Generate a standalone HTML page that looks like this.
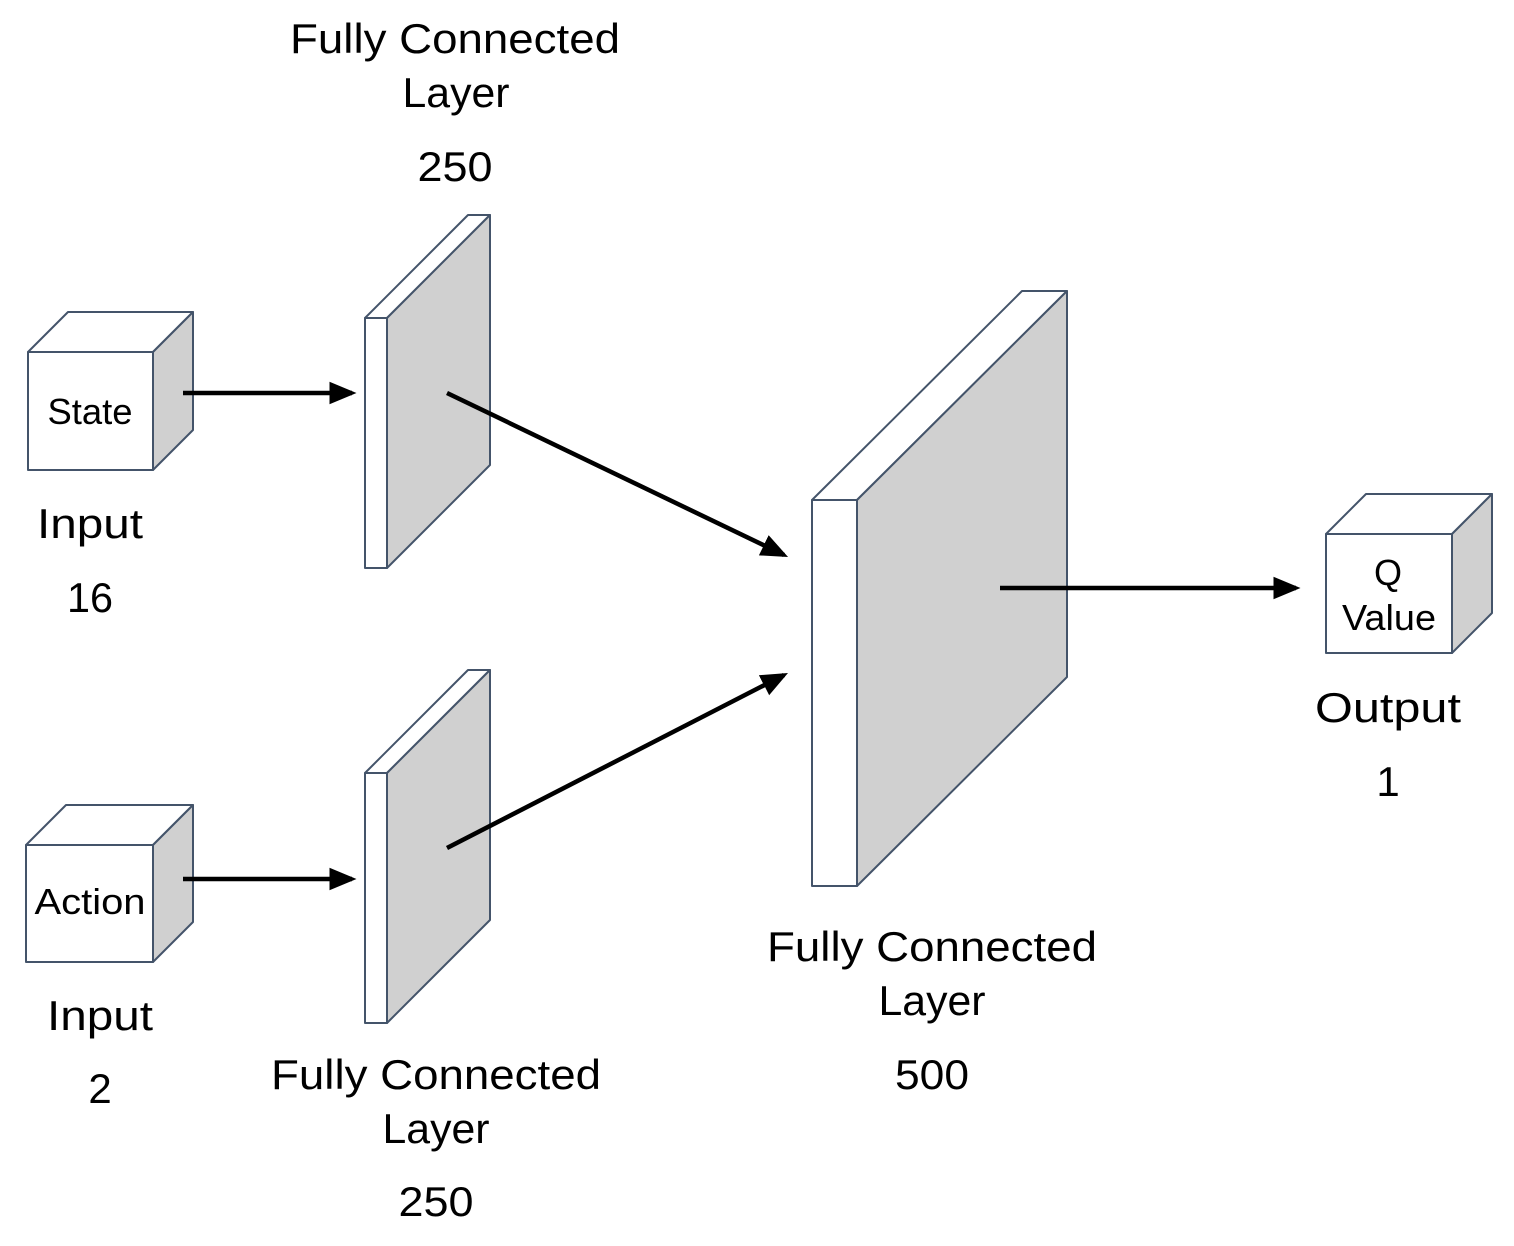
<!DOCTYPE html>
<html><head><meta charset="utf-8"><style>html,body{margin:0;padding:0;background:#fff}</style></head>
<body>
<svg width="1514" height="1241" viewBox="0 0 1514 1241" xmlns="http://www.w3.org/2000/svg" font-family="'Liberation Sans', sans-serif">
<defs><marker id="a" markerWidth="6" markerHeight="6" refX="5" refY="3" orient="auto" markerUnits="strokeWidth"><path d="M0,0.5 L6,3 L0,5.5 z" fill="#000"/></marker></defs>
<g stroke="#44546a" stroke-width="2" stroke-linejoin="round">
<polygon points="28,352 68,312 193,312 153,352" fill="#fff"/>
<polygon points="153,352 193,312 193,430 153,470" fill="#d0d0d0"/>
<rect x="28" y="352" width="125" height="118" fill="#fff"/>
<polygon points="26,845 66,805 193,805 153,845" fill="#fff"/>
<polygon points="153,845 193,805 193,922 153,962" fill="#d0d0d0"/>
<rect x="26" y="845" width="127" height="117" fill="#fff"/>
<polygon points="365,318 468,215 490,215 387,318" fill="#fff"/>
<polygon points="387,318 490,215 490,465 387,568" fill="#d0d0d0"/>
<rect x="365" y="318" width="22" height="250" fill="#fff"/>
<polygon points="365,773 468,670 490,670 387,773" fill="#fff"/>
<polygon points="387,773 490,670 490,920 387,1023" fill="#d0d0d0"/>
<rect x="365" y="773" width="22" height="250" fill="#fff"/>
<polygon points="812,500 1022,291 1067,291 857,500" fill="#fff"/>
<polygon points="857,500 1067,291 1067,677 857,886" fill="#d0d0d0"/>
<rect x="812" y="500" width="45" height="386" fill="#fff"/>
<polygon points="1326,534 1366,494 1492,494 1452,534" fill="#fff"/>
<polygon points="1452,534 1492,494 1492,613 1452,653" fill="#d0d0d0"/>
<rect x="1326" y="534" width="126" height="119" fill="#fff"/>
</g>
<g stroke="#000" stroke-width="4.5" marker-end="url(#a)">
<line x1="183" y1="393" x2="352" y2="393"/>
<line x1="183" y1="879" x2="352" y2="879"/>
<line x1="447" y1="393" x2="784" y2="555"/>
<line x1="447" y1="848" x2="784" y2="675"/>
<line x1="1000" y1="588" x2="1296" y2="588"/>
</g>
<g font-size="42" text-anchor="middle" fill="#000" lengthAdjust="spacingAndGlyphs">
<text x="455" y="53" textLength="330" lengthAdjust="spacingAndGlyphs">Fully Connected</text><text x="456" y="107" textLength="107" lengthAdjust="spacingAndGlyphs">Layer</text><text x="455" y="181" textLength="75" lengthAdjust="spacingAndGlyphs">250</text>
<text x="90" y="538" textLength="106" lengthAdjust="spacingAndGlyphs">Input</text><text x="90" y="612" textLength="46" lengthAdjust="spacingAndGlyphs">16</text>
<text x="100" y="1030" textLength="106" lengthAdjust="spacingAndGlyphs">Input</text><text x="100" y="1103">2</text>
<text x="436" y="1089" textLength="330" lengthAdjust="spacingAndGlyphs">Fully Connected</text><text x="436" y="1143" textLength="107" lengthAdjust="spacingAndGlyphs">Layer</text><text x="436" y="1216" textLength="75" lengthAdjust="spacingAndGlyphs">250</text>
<text x="932" y="961" textLength="330" lengthAdjust="spacingAndGlyphs">Fully Connected</text><text x="932" y="1015" textLength="107" lengthAdjust="spacingAndGlyphs">Layer</text><text x="932" y="1089" textLength="74" lengthAdjust="spacingAndGlyphs">500</text>
<text x="1388" y="722" textLength="146" lengthAdjust="spacingAndGlyphs">Output</text><text x="1388" y="796">1</text>
</g>
<g font-size="36" text-anchor="middle" fill="#000">
<text x="90" y="424" textLength="85" lengthAdjust="spacingAndGlyphs">State</text><text x="90" y="914" textLength="111" lengthAdjust="spacingAndGlyphs">Action</text>
<text x="1388" y="585">Q</text><text x="1389" y="630" textLength="94" lengthAdjust="spacingAndGlyphs">Value</text>
</g>
</svg>
</body></html>
